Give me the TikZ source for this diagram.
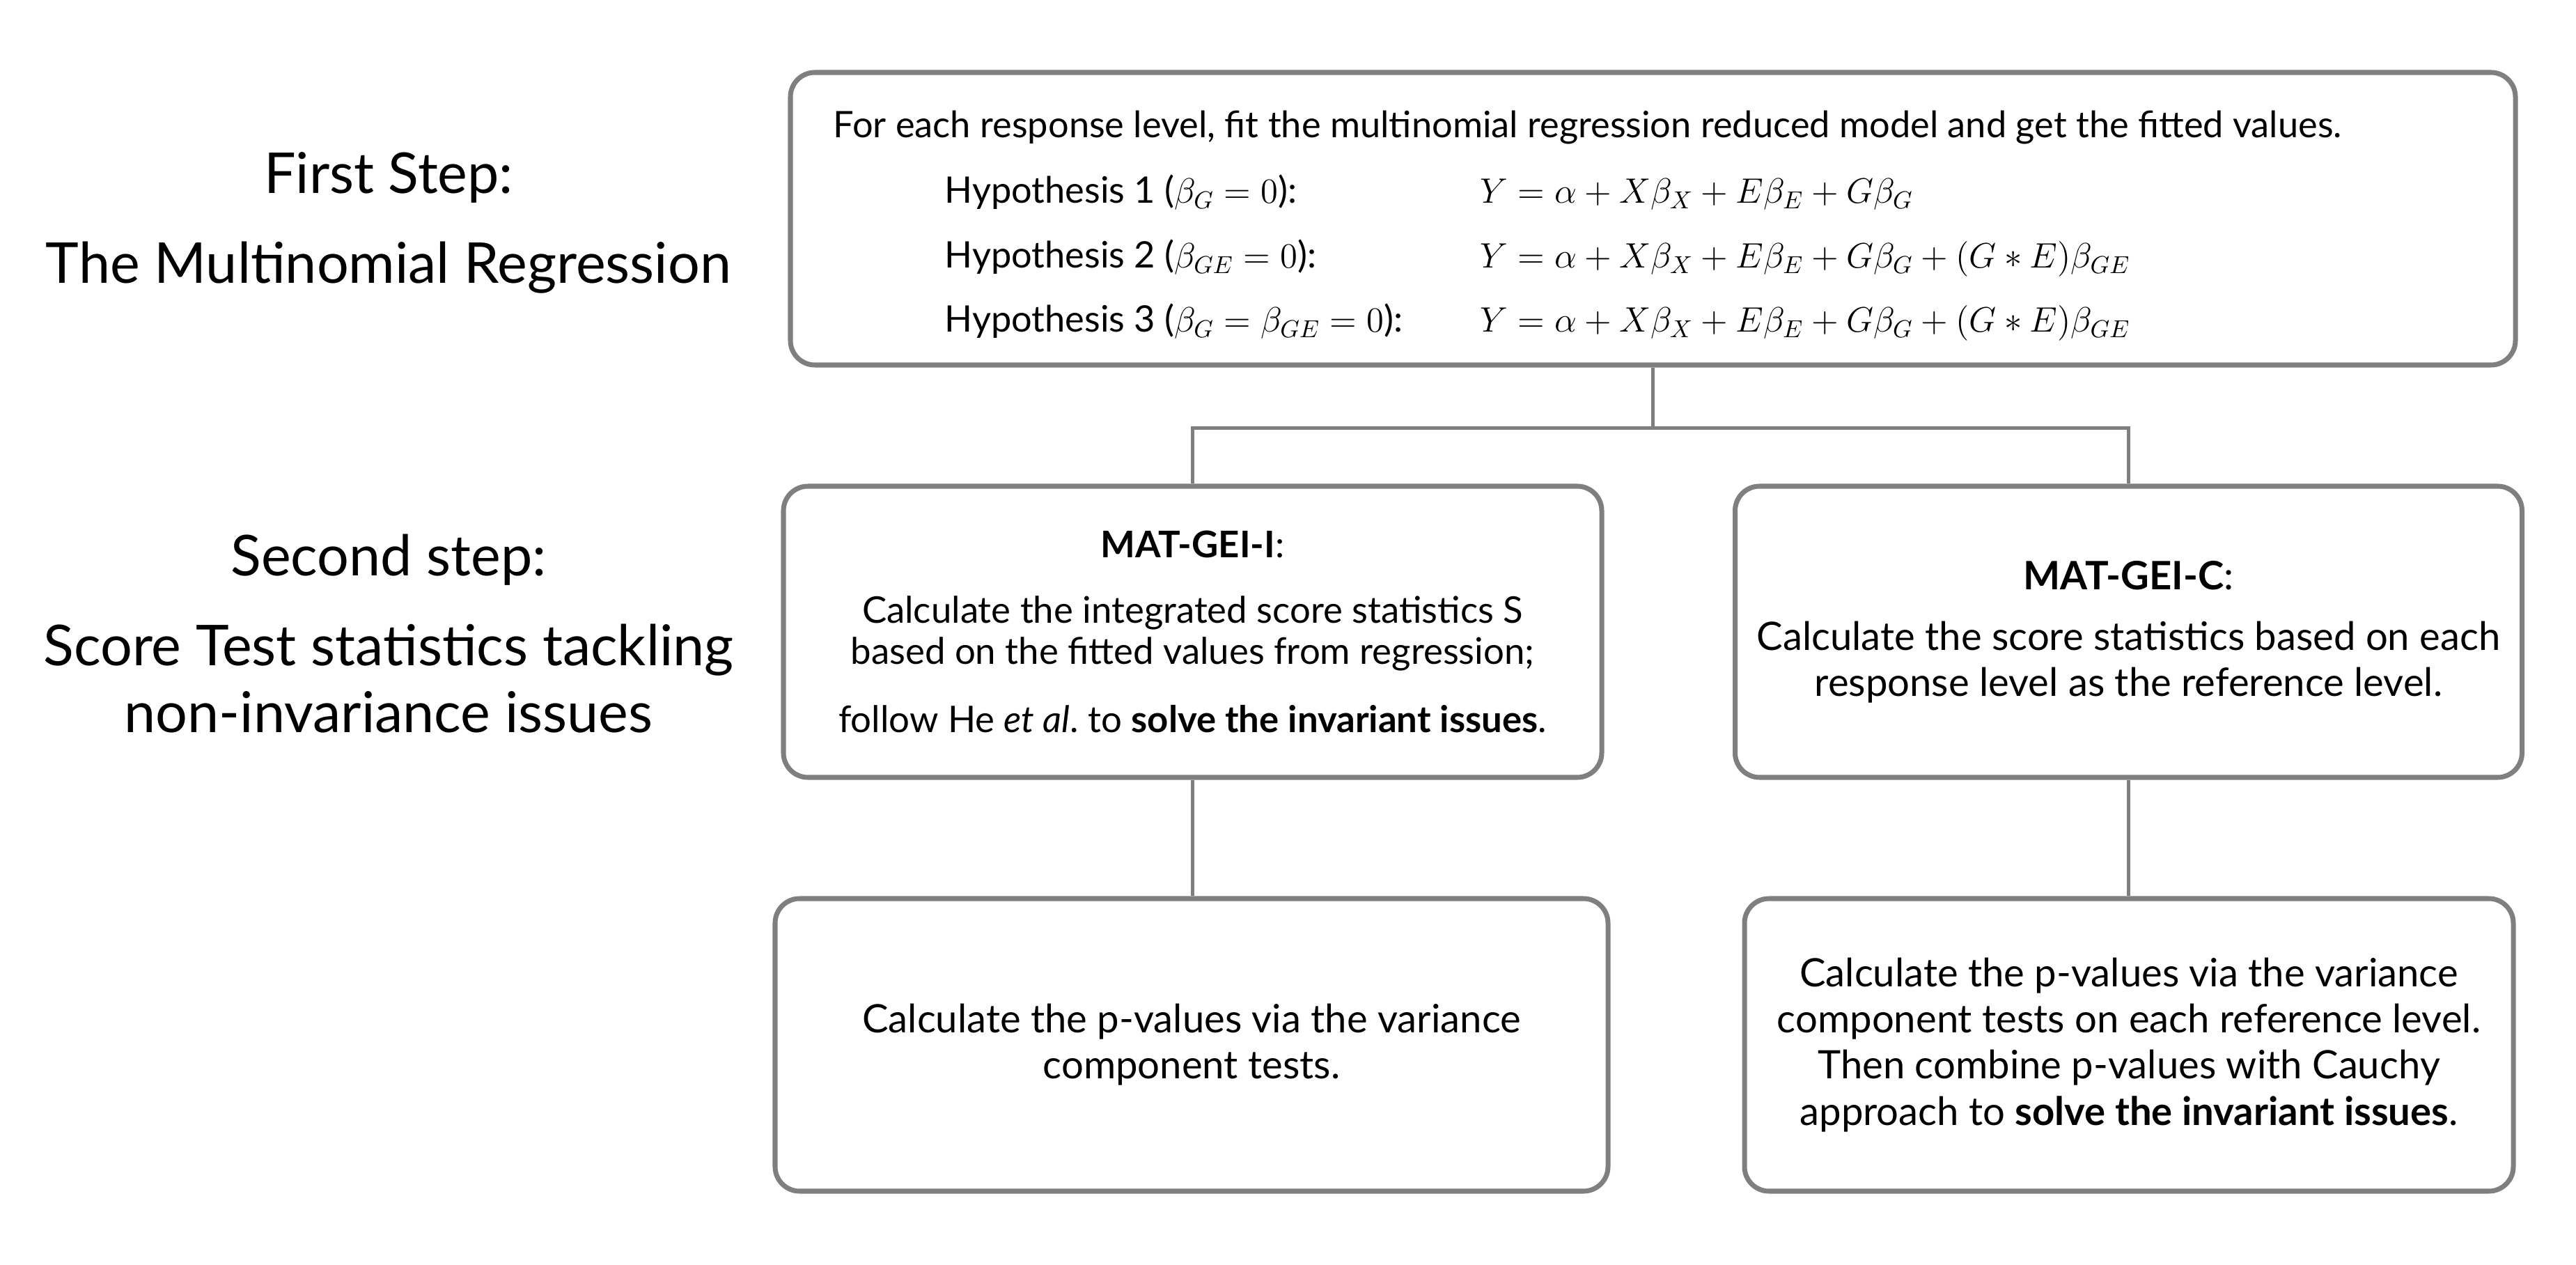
\documentclass[tikz,border=0pt]{standalone}
\usepackage{fontspec}
\setmainfont{Lato}
\usetikzlibrary{positioning}
\definecolor{BoxGray}{HTML}{7F7F7F}

\tikzset{
  stepbox/.style={draw=BoxGray, line width=2pt, rounded corners=10pt, inner sep=0pt,
    align=center, font=\fontsize{16}{18.8}\selectfont},
  hyptext/.style={anchor=base west, inner sep=0pt, font=\fontsize{14.9}{18.5}\selectfont},
  steplabel/.style={align=center, font=\fontsize{23}{27.5}\selectfont},
  link/.style={draw=BoxGray, line width=1.4pt}
}

\begin{document}
\begin{tikzpicture}
\useasboundingbox (0,0) rectangle (36.99,-18.16);

% step labels on the left
\node[steplabel] (stepone) at (5.58,-3.20) {First Step:\\[9pt] The Multinomial Regression};
\node[steplabel] (steptwo) at (5.58,-9.10) {Second step:\\[9pt] Score Test statistics tackling\\ non-invariance issues};

% first step: regression box
\node[stepbox, minimum width=24.77cm, minimum height=4.2cm] (regr) at (23.735,-3.14) {};
\node[hyptext] (intro) at (11.96,-1.98) {For each response level, fit the multinomial regression reduced model and get the fitted values.};
\node[hyptext] (hypA) at (13.56,-2.92) {Hypothesis 1 ($\beta_G = 0$):};
\node[hyptext] (hypB) at (13.56,-3.85) {Hypothesis 2 ($\beta_{GE} = 0$):};
\node[hyptext] (hypC) at (13.56,-4.77) {Hypothesis 3 ($\beta_G = \beta_{GE} = 0$):};
\node[hyptext] (eqA) at (21.25,-2.92) {$Y = \alpha + X\beta_X + E\beta_E + G\beta_G$};
\node[hyptext] (eqB) at (21.25,-3.85) {$Y = \alpha + X\beta_X + E\beta_E + G\beta_G + (G*E)\beta_{GE}$};
\node[hyptext] (eqC) at (21.25,-4.77) {$Y = \alpha + X\beta_X + E\beta_E + G\beta_G + (G*E)\beta_{GE}$};

% second step: score statistics
\node[stepbox, minimum width=11.75cm, minimum height=4.18cm, font=\fontsize{15}{16.8}\selectfont] (scoreI) at (17.125,-9.07)
  {\textbf{MAT-GEI-I}:\\[10pt]
   Calculate the integrated score statistics S\\
   based on the fitted values from regression;\\[11pt]
   follow He \textit{et al}.\ to \textbf{solve the invariant issues}.};
\node[stepbox, minimum width=11.30cm, minimum height=4.18cm] (scoreC) at (30.565,-9.07)
  {\textbf{MAT-GEI-C}:\\[6pt]
   Calculate the score statistics based on each\\
   response level as the reference level.};

% p-values
\node[stepbox, minimum width=11.96cm, minimum height=4.2cm] (pvalI) at (17.11,-15.0)
  {Calculate the p-values via the variance\\ component tests.};
\node[stepbox, minimum width=11.04cm, minimum height=4.2cm] (pvalC) at (30.57,-15.0)
  {Calculate the p-values via the variance\\
   component tests on each reference level.\\
   Then combine p-values with Cauchy\\
   approach to \textbf{solve the invariant issues}.};

% connectors
\draw[link] (regr.south) -- ++(0,-0.87) coordinate (split);
\draw[link] (split) -| (scoreI.north);
\draw[link] (split) -| (scoreC.north);
\draw[link] (scoreI.south) -- (scoreI.south |- pvalI.north);
\draw[link] (scoreC.south) -- (scoreC.south |- pvalC.north);
\end{tikzpicture}
\end{document}
